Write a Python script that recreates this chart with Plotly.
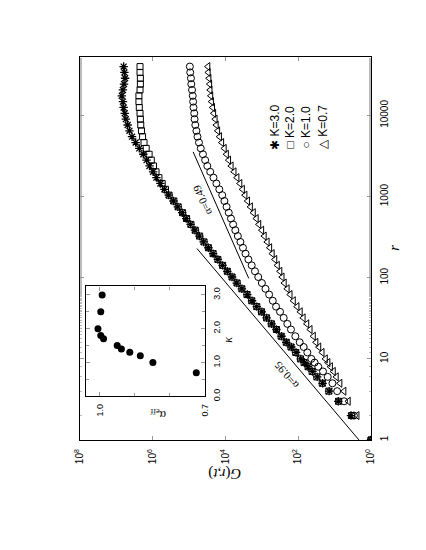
import numpy as np
import plotly.graph_objects as go

# r values (distance), shared by all four series
r = [1, 2, 3, 4, 5, 6, 7, 8, 9, 10, 12, 14, 16, 19, 23, 27, 32, 38, 44, 52,
     62, 73, 86, 102, 120, 142, 168, 198, 234, 276, 326, 385, 454, 536, 633,
     747, 882, 1041, 1228, 1450, 1711, 2020, 2384, 2814, 3323, 3926, 4634,
     5470, 6457, 7621, 8995, 10617, 12533, 14791, 17458, 20606, 24322, 28708,
     33884, 40000]

# G(r,t), stored as log10 values
logG_k30 = [0, 0.55, 0.90, 1.15, 1.33, 1.48, 1.61, 1.73, 1.83, 1.93, 2.06, 2.19,
            2.33, 2.46, 2.60, 2.73, 2.87, 3.00, 3.14, 3.27, 3.40, 3.55, 3.69,
            3.82, 3.95, 4.08, 4.21, 4.34, 4.47, 4.60, 4.72, 4.84, 4.96, 5.08,
            5.19, 5.31, 5.43, 5.56, 5.68, 5.79, 5.90, 5.99, 6.09, 6.17, 6.26,
            6.37, 6.47, 6.57, 6.64, 6.69, 6.74, 6.77, 6.80, 6.82, 6.85, 6.82,
            6.79, 6.76, 6.78, 6.80]
logG_k20 = [0, 0.53, 0.89, 1.16, 1.34, 1.49, 1.62, 1.73, 1.84, 1.94, 2.07, 2.20,
            2.33, 2.47, 2.60, 2.74, 2.87, 3.01, 3.14, 3.28, 3.41, 3.55, 3.68,
            3.82, 3.95, 4.08, 4.21, 4.34, 4.47, 4.59, 4.71, 4.83, 4.95, 5.07,
            5.18, 5.30, 5.42, 5.55, 5.65, 5.74, 5.83, 5.91, 5.98, 6.04, 6.10,
            6.18, 6.24, 6.28, 6.31, 6.33, 6.34, 6.35, 6.37, 6.38, 6.38, 6.35,
            6.34, 6.34, 6.35, 6.35]
logG_k10 = [0, 0.47, 0.74, 0.93, 1.06, 1.19, 1.32, 1.45, 1.55, 1.64, 1.75, 1.85,
            1.96, 2.08, 2.20, 2.30, 2.40, 2.50, 2.61, 2.70, 2.80, 2.90, 3.00,
            3.10, 3.19, 3.28, 3.37, 3.45, 3.52, 3.59, 3.66, 3.73, 3.79, 3.85,
            3.91, 3.97, 4.03, 4.09, 4.17, 4.25, 4.33, 4.42, 4.50, 4.56, 4.62,
            4.68, 4.73, 4.77, 4.80, 4.83, 4.85, 4.86, 4.88, 4.89, 4.90, 4.92,
            4.94, 4.95, 4.97, 4.98]
logG_k07 = [0, 0.38, 0.62, 0.74, 0.85, 0.95, 1.03, 1.11, 1.18, 1.25, 1.34, 1.43,
            1.51, 1.58, 1.67, 1.76, 1.86, 1.94, 2.03, 2.13, 2.22, 2.30, 2.38,
            2.44, 2.50, 2.57, 2.64, 2.71, 2.78, 2.85, 2.93, 3.00, 3.08, 3.15,
            3.23, 3.31, 3.39, 3.46, 3.53, 3.60, 3.68, 3.76, 3.84, 3.91, 3.97,
            4.03, 4.10, 4.16, 4.21, 4.25, 4.28, 4.32, 4.35, 4.38, 4.40, 4.42,
            4.43, 4.45, 4.47, 4.48]

# guide lines (end points)
fit095_r = [1, 229]
fit095_G = [2.14, 61000]
fit049_r = [98, 3550]
fit049_G = [2290, 77600]

# inset: alpha_eff vs kappa
kappa = [0.7, 1.0, 1.2, 1.3, 1.4, 1.5, 1.7, 1.8, 2.0, 2.5, 3.0]
alpha_eff = [0.724, 0.848, 0.884, 0.914, 0.938, 0.950, 0.989, 0.997, 1.005, 0.997, 0.993]

SANS = "Liberation Sans"
SERIF = "Liberation Serif"

fig = go.Figure()

# The whole figure is shown turned 90 deg counter-clockwise:
# G runs on the horizontal axis (growing leftwards), r on the vertical one.
fig.add_trace(go.Scatter(x=fit095_G, y=fit095_r, mode="lines",
                         line=dict(color="black", width=1)))
fig.add_trace(go.Scatter(x=fit049_G, y=fit049_r, mode="lines",
                         line=dict(color="black", width=1)))

series = [
    (logG_k07, "triangle-left-open", 7),
    (logG_k10, "circle-open", 7),
    (logG_k20, "square-open", 6),
    (logG_k30, "asterisk-open", 7),
]
for logG, sym, size in series:
    fig.add_trace(go.Scatter(
        x=10 ** np.array(logG), y=r, mode="markers",
        marker=dict(symbol=sym, size=size, color="black",
                    line=dict(color="black", width=1.3 if "asterisk" in sym else 1)),
    ))

fig.add_trace(go.Scatter(x=alpha_eff, y=kappa, mode="markers", xaxis="x2", yaxis="y2",
                         marker=dict(symbol="circle", size=7, color="black")))

axis_common = dict(showline=True, linecolor="black", linewidth=1.2, mirror="ticks",
                   ticks="inside", tickcolor="#999", ticklen=4, showgrid=False,
                   zeroline=False, tickangle=-90)

fig.update_layout(
    width=426, height=550, autosize=False,
    margin=dict(l=72, r=63, t=49, b=118),
    paper_bgcolor="white", plot_bgcolor="white",
    font=dict(color="black"),
    showlegend=False,
    xaxis=dict(type="log", range=[8, 0], side="bottom",
               tickvals=[1, 1e2, 1e4, 1e6, 1e8],
               ticktext=["10<sup>0</sup>", "10<sup>2</sup>", "10<sup>4</sup>",
                         "10<sup>6</sup>", "10<sup>8</sup>"],
               tickfont=dict(family=SANS, size=10, color="black"),
               ticklabelstandoff=4, **axis_common),
    yaxis=dict(type="log", range=[0, 4.72], side="right",
               tickvals=[1, 10, 100, 1000, 10000],
               ticktext=["1", "10", "100", "1000", "10000"],
               tickfont=dict(family=SANS, size=10, color="black"),
               ticklabelstandoff=4,
               minor=dict(ticks="inside", ticklen=2, tickcolor="#bbb"),
               **axis_common),
    xaxis2=dict(domain=[0.0196, 0.4285], anchor="y2", range=[1.04, 0.7],
                tickvals=[0.7, 1.0], ticktext=["0.7", "1.0"],
                minor=dict(ticks="inside", ticklen=3, tickcolor="#999", tick0=0.7, dtick=0.1),
                tickfont=dict(family=SANS, size=9, color="black"),
                ticklabelstandoff=3, **axis_common),
    yaxis2=dict(domain=[0.114, 0.401], anchor="x2", range=[0, 3.25], side="right",
                tickvals=[0, 1, 2, 3], ticktext=["0.0", "1.0", "2.0", "3.0"],
                minor=dict(ticks="inside", ticklen=3, tickcolor="#999", tick0=0, dtick=0.5),
                tickfont=dict(family=SANS, size=9, color="black"),
                ticklabelstandoff=3, **axis_common),
)

notes = [
    # legend, drawn as rotated text
    dict(x=0.669, y=0.817, text="✱ K=3.0", textangle=-90, font=dict(family=SANS, size=12, color="black")),
    dict(x=0.723, y=0.817, text="□ K=2.0", textangle=-90, font=dict(family=SANS, size=12, color="black")),
    dict(x=0.778, y=0.817, text="○ K=1.0", textangle=-90, font=dict(family=SANS, size=12, color="black")),
    dict(x=0.835, y=0.817, text="△ K=0.7", textangle=-90, font=dict(family=SANS, size=12, color="black")),
    # slope labels
    dict(x=0.708, y=0.170, text="α=0.95", textangle=-130, font=dict(family=SERIF, size=11, color="black")),
    dict(x=0.419, y=0.627, text="α=0.49", textangle=-114, font=dict(family=SERIF, size=11, color="black")),
    # axis titles
    dict(x=1.081, y=0.501, text="<i>r</i>", textangle=-90, font=dict(family=SERIF, size=15, color="black")),
    dict(x=0.497, y=-0.086, text="<i>G</i>(<i>r,t</i>)", textangle=180, font=dict(family=SERIF, size=15, color="black")),
    dict(x=0.509, y=0.262, text="<i>κ</i>", textangle=-90, font=dict(family=SERIF, size=12, color="black")),
    dict(x=0.268, y=0.066, text="α<sub>eff</sub>", textangle=180, font=dict(family=SERIF, size=12, color="black")),
]
for n in notes:
    fig.add_annotation(xref="paper", yref="paper", showarrow=False,
                       xanchor="center", yanchor="middle", **n)

fig.write_html("out.html")
